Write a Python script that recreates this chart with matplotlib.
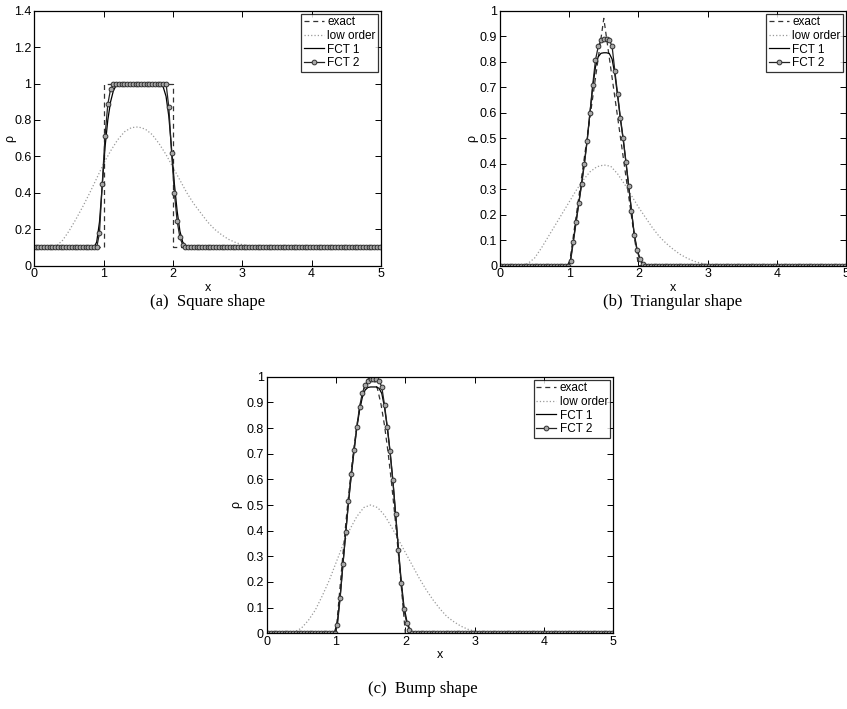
import numpy as np
import matplotlib
matplotlib.use('Agg')
import matplotlib.pyplot as plt

plt.rcParams['font.family'] = ['Liberation Sans', 'DejaVu Sans']

# cell centres (dx = 0.04) used by both FCT schemes
xc = 0.02 + 0.04 * np.arange(125)
# low order solution read at every 0.1
xl = np.round(np.arange(51) * 0.1, 2)

# ---- (a) square ----
sq_exact_x = [0, 1, 1, 2, 2, 5]
sq_exact_y = [0.1, 0.1, 1, 1, 0.1, 0.1]
sq_low = [0.1, 0.1, 0.101, 0.105, 0.135, 0.19, 0.255, 0.325, 0.40, 0.48,
          0.56, 0.63, 0.69, 0.735, 0.758, 0.762, 0.75, 0.72, 0.67, 0.61,
          0.54, 0.47, 0.40, 0.34, 0.29, 0.24, 0.20, 0.17, 0.145, 0.128,
          0.115, 0.107, 0.103, 0.101] + [0.1] * 17
sq_fct1 = [0.1] * 22 + [0.13, 0.24, 0.44, 0.65, 0.80, 0.90, 0.96, 0.99] \
    + [1.0] * 16 + [0.98, 0.93, 0.82, 0.64, 0.45, 0.30, 0.19, 0.13, 0.11] + [0.1] * 70
sq_fct2 = [0.1] * 23 + [0.18, 0.45, 0.71, 0.886, 0.97, 0.995] \
    + [1.0] * 19 + [0.87, 0.62, 0.40, 0.245, 0.155, 0.115] + [0.1] * 71

# ---- (b) triangle ----
tri_exact_x = [0, 1.0, 1.5, 2.0, 5]
tri_exact_y = [0, 0, 0.97, 0, 0]
tri_low = [0, 0, 0, 0, 0.008, 0.03, 0.07, 0.115, 0.16, 0.205,
           0.25, 0.295, 0.335, 0.368, 0.388, 0.395, 0.39, 0.36, 0.32, 0.275,
           0.23, 0.19, 0.15, 0.115, 0.088, 0.065, 0.045, 0.03, 0.018, 0.01,
           0.005, 0.002] + [0] * 19
tri_fct1 = [0] * 24 + [0.004, 0.025, 0.10, 0.175, 0.25, 0.325, 0.405, 0.495, 0.60, 0.70,
                       0.78, 0.82, 0.833, 0.835, 0.835, 0.832, 0.81, 0.75, 0.665, 0.575,
                       0.495, 0.405, 0.31, 0.215, 0.125, 0.065, 0.03, 0.01, 0.002] + [0] * 72
tri_fct2 = [0] * 25 + [0.018, 0.094, 0.17, 0.245, 0.32, 0.40, 0.49, 0.60, 0.71, 0.807,
                       0.86, 0.885, 0.89, 0.89, 0.885, 0.86, 0.763, 0.673, 0.58, 0.50,
                       0.408, 0.314, 0.215, 0.12, 0.06, 0.025, 0.005] + [0] * 73

# ---- (c) bump ----
bump_exact_x = [0, 1.0, 1.05, 1.1, 1.15, 1.2, 1.25, 1.3, 1.35, 1.4, 1.45, 1.5,
                1.55, 1.6, 1.65, 1.7, 1.75, 1.8, 1.85, 1.9, 1.95, 2.0, 5]
bump_exact_y = [0, 0, 0.156, 0.309, 0.454, 0.588, 0.707, 0.809, 0.891, 0.951, 0.988, 1.0,
                0.988, 0.951, 0.891, 0.809, 0.707, 0.588, 0.454, 0.309, 0.156, 0, 0]
bump_low = [0, 0, 0, 0, 0.005, 0.02, 0.05, 0.09, 0.145, 0.205,
            0.275, 0.345, 0.405, 0.455, 0.49, 0.5, 0.49, 0.46, 0.415, 0.365,
            0.315, 0.265, 0.215, 0.17, 0.13, 0.095, 0.065, 0.045, 0.028, 0.016,
            0.008, 0.003] + [0] * 19
bump_fct1 = [0] * 24 + [0.005, 0.045, 0.145, 0.27, 0.39, 0.51, 0.615, 0.71, 0.80, 0.87,
                        0.92, 0.948, 0.958, 0.96, 0.96, 0.96, 0.955, 0.935, 0.88, 0.80,
                        0.705, 0.595, 0.465, 0.33, 0.205, 0.105, 0.05, 0.018, 0.004] + [0] * 72
bump_fct2 = [0] * 25 + [0.032, 0.139, 0.269, 0.393, 0.515, 0.619, 0.714, 0.805, 0.883, 0.937,
                        0.967, 0.985, 0.99, 0.99, 0.99, 0.985, 0.96, 0.889, 0.805, 0.71,
                        0.597, 0.465, 0.325, 0.195, 0.093, 0.039, 0.013] + [0] * 73

xticks = [0, 1, 2, 3, 4, 5]
yticks_a = [0, 0.2, 0.4, 0.6, 0.8, 1, 1.2, 1.4]
ylabels_a = ['0', '0.2', '0.4', '0.6', '0.8', '1', '1.2', '1.4']
yticks_b = [0, 0.1, 0.2, 0.3, 0.4, 0.5, 0.6, 0.7, 0.8, 0.9, 1]
ylabels_b = ['0', '0.1', '0.2', '0.3', '0.4', '0.5', '0.6', '0.7', '0.8', '0.9', '1']

captions = ['(a)  Square shape', '(b)  Triangular shape', '(c)  Bump shape']

fig = plt.figure(figsize=(8.47, 7.09), dpi=100)
W, H = 847.0, 709.0


def make_ax(l, t, r, b):
    return fig.add_axes([l / W, 1 - b / H, (r - l) / W, (b - t) / H])


def draw(ax, ex, ey, low, f1, f2, ymax, yt, yl, ylab_x):
    ax.plot(ex, ey, color='#333333', lw=0.9, ls='--', dashes=(4, 3), label='exact')
    ax.plot(xl, low, color='#9a9a9a', lw=0.9, ls=':', label='low order')
    ax.plot(xc, f1, color='black', lw=0.9, label='FCT 1')
    ax.plot(xc, f2, color='#222222', lw=0.9, marker='o', ms=3.4, mew=0.7,
            mfc='#a8a8a8', mec='#303030', label='FCT 2')
    ax.set_xlim(0, 5)
    ax.set_ylim(0, ymax)
    ax.set_xticks(xticks)
    ax.set_xticklabels([str(t) for t in xticks])
    ax.set_yticks(yt)
    ax.set_yticklabels(yl)
    ax.tick_params(direction='in', top=True, right=True, length=4, width=0.7,
                   labelsize=9, pad=2)
    for s in ax.spines.values():
        s.set_linewidth(0.9)
    ax.set_xlabel('x', fontsize=9, labelpad=1)
    ax.set_ylabel('ρ', fontsize=9)
    ax.yaxis.set_label_coords(ylab_x, 0.5)
    leg = ax.legend(loc='upper right', fontsize=8.5, frameon=True, fancybox=False,
                    borderaxespad=0.25, borderpad=0.2, labelspacing=0.15,
                    handlelength=1.7, handletextpad=0.3)
    leg.get_frame().set_edgecolor('black')
    leg.get_frame().set_linewidth(0.9)


ax1 = make_ax(34.3, 10.7, 381, 265.7)
draw(ax1, sq_exact_x, sq_exact_y, sq_low, sq_fct1, sq_fct2, 1.4, yticks_a, ylabels_a, -0.053)

ax2 = make_ax(500, 10.7, 846, 265.7)
draw(ax2, tri_exact_x, tri_exact_y, tri_low, tri_fct1, tri_fct2, 1, yticks_b, ylabels_b, -0.063)

ax3 = make_ax(266.7, 376.7, 613.3, 633.3)
draw(ax3, bump_exact_x, bump_exact_y, bump_low, bump_fct1, bump_fct2, 1, yticks_b, ylabels_b, -0.07)

# subfigure captions
cap_font = dict(family=['Liberation Serif', 'DejaVu Serif'], fontsize=12,
                ha='center', va='center')
fig.text(208 / W, 1 - 302 / H, captions[0], **cap_font)
fig.text(673 / W, 1 - 302 / H, captions[1], **cap_font)
fig.text(423 / W, 1 - 689 / H, captions[2], **cap_font)

fig.savefig('out.png', dpi=100)
